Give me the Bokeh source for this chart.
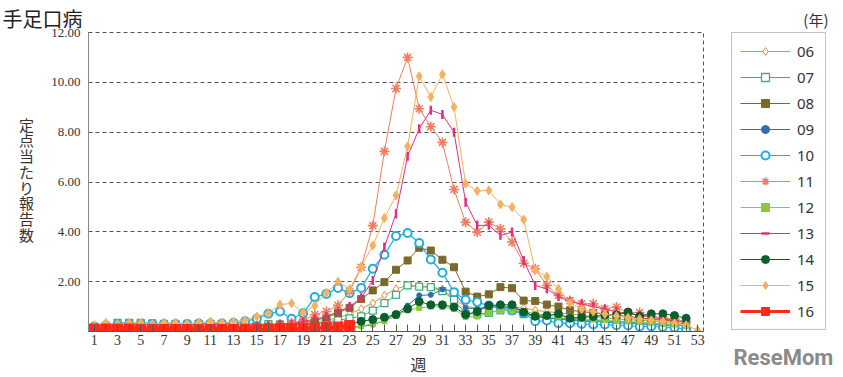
import numpy as np
from bokeh.plotting import figure
from bokeh.models import (Range1d, FixedTicker, Legend, LegendItem, Label,
                          NumeralTickFormatter)
from bokeh.embed import file_html
from bokeh.resources import INLINE

weeks = list(range(1, 54))
odd_weeks = list(range(1, 54, 2))
even_weeks = list(range(2, 53, 2))
y_ticks = [2, 4, 6, 8, 10, 12]

years = ["06", "07", "08", "09", "10", "11", "12", "13", "14", "15", "16"]

v06 = [0.15, 0.15, 0.15, 0.15, 0.15, 0.15, 0.15, 0.15, 0.15, 0.15,
       0.15, 0.15, 0.15, 0.18, 0.20, 0.22, 0.25, 0.28, 0.32, 0.38,
       0.45, 0.55, 0.70, 0.91, 1.14, 1.45, 1.71, 1.85, 1.82, 1.78,
       1.70, 1.30, 1.00, 0.95, 0.95, 1.00, 1.00, 0.95, 0.85, 0.80,
       0.75, 0.70, 0.65, 0.60, 0.55, 0.50, 0.48, 0.45, 0.42, 0.40,
       0.35, 0.30]
v07 = [0.15, 0.20, 0.35, 0.35, 0.35, 0.33, 0.30, 0.30, 0.28, 0.30,
       0.30, 0.30, 0.30, 0.32, 0.30, 0.30, 0.28, 0.28, 0.30, 0.33,
       0.38, 0.45, 0.53, 0.61, 0.84, 1.14, 1.47, 1.85, 1.80, 1.78,
       1.62, 1.27, 0.72, 0.70, 0.75, 0.85, 0.85, 0.70, 0.60, 0.55,
       0.52, 0.50, 0.45, 0.45, 0.42, 0.40, 0.38, 0.35, 0.32, 0.30,
       0.28, 0.25]
v08 = [0.12, 0.12, 0.12, 0.12, 0.12, 0.12, 0.12, 0.12, 0.12, 0.12,
       0.13, 0.14, 0.15, 0.16, 0.18, 0.20, 0.25, 0.28, 0.35, 0.45,
       0.55, 0.75, 0.95, 1.30, 1.65, 1.98, 2.48, 2.85, 3.36, 3.25,
       2.88, 2.58, 1.60, 1.40, 1.49, 1.78, 1.74, 1.24, 1.22, 1.08,
       1.00, 0.85, 0.80, 0.75, 0.70, 0.65, 0.60, 0.55, 0.50, 0.45,
       0.42, 0.38]
v09 = [0.05, 0.05, 0.05, 0.05, 0.05, 0.05, 0.05, 0.05, 0.05, 0.05,
       0.05, 0.05, 0.05, 0.05, 0.05, 0.05, 0.05, 0.05, 0.05, 0.05,
       0.08, 0.10, 0.15, 0.20, 0.27, 0.44, 0.71, 1.04, 1.45, 1.47,
       1.69, 1.62, 0.95, 0.90, 1.00, 1.00, 0.95, 0.80, 0.60, 0.55,
       0.50, 0.45, 0.42, 0.40, 0.38, 0.35, 0.33, 0.30, 0.28, 0.26,
       0.25, 0.22]
v10 = [0.20, 0.25, 0.28, 0.30, 0.30, 0.30, 0.30, 0.30, 0.30, 0.32,
       0.32, 0.32, 0.35, 0.41, 0.51, 0.71, 0.80, 0.51, 0.73, 1.38,
       1.51, 1.75, 1.54, 1.75, 2.52, 3.08, 3.83, 3.95, 3.55, 2.89,
       2.36, 1.58, 1.27, 1.18, 1.04, 0.98, 0.84, 0.74, 0.41, 0.44,
       0.33, 0.33, 0.30, 0.28, 0.28, 0.25, 0.24, 0.20, 0.20, 0.18,
       0.15, 0.10]
v11 = [0.15, 0.15, 0.15, 0.15, 0.15, 0.15, 0.15, 0.15, 0.15, 0.15,
       0.15, 0.15, 0.15, 0.18, 0.20, 0.22, 0.25, 0.35, 0.44, 0.68,
       0.80, 1.05, 1.60, 2.57, 4.25, 7.23, 9.75, 11.00, 8.94, 8.22,
       7.59, 5.70, 4.38, 3.99, 4.39, 4.12, 3.59, 2.74, 2.52, 1.85,
       1.45, 1.24, 1.11, 1.11, 0.91, 0.98, 0.75, 0.76, 0.60, 0.55,
       0.50, 0.40]
v12 = [0.08, 0.08, 0.08, 0.08, 0.08, 0.08, 0.08, 0.08, 0.08, 0.08,
       0.08, 0.08, 0.08, 0.08, 0.08, 0.09, 0.09, 0.10, 0.10, 0.10,
       0.12, 0.15, 0.18, 0.22, 0.30, 0.42, 0.62, 0.85, 0.94, 1.00,
       0.98, 0.90, 0.58, 0.60, 0.75, 0.85, 0.85, 0.80, 0.72, 0.65,
       0.60, 0.55, 0.50, 0.48, 0.45, 0.42, 0.40, 0.38, 0.35, 0.30,
       0.28, 0.22]
v13 = [0.20, 0.20, 0.20, 0.20, 0.20, 0.20, 0.20, 0.20, 0.20, 0.20,
       0.20, 0.20, 0.20, 0.20, 0.22, 0.25, 0.30, 0.30, 0.40, 0.50,
       0.60, 0.80, 1.00, 1.35, 2.05, 3.39, 4.73, 7.03, 8.14, 8.88,
       8.71, 8.00, 5.19, 4.26, 4.26, 3.86, 3.99, 2.85, 1.85, 1.71,
       1.40, 1.20, 1.10, 1.00, 0.90, 0.80, 0.72, 0.65, 0.58, 0.50,
       0.45, 0.35]
v14 = [0.08, 0.08, 0.08, 0.08, 0.08, 0.08, 0.08, 0.08, 0.08, 0.08,
       0.08, 0.08, 0.08, 0.08, 0.08, 0.09, 0.10, 0.10, 0.10, 0.15,
       0.18, 0.20, 0.28, 0.41, 0.48, 0.57, 0.68, 0.91, 1.20, 1.07,
       1.07, 0.98, 0.68, 0.80, 1.04, 1.07, 1.07, 0.78, 0.61, 0.64,
       0.71, 0.53, 0.57, 0.60, 0.66, 0.66, 0.78, 0.61, 0.71, 0.71,
       0.64, 0.53]
v15 = [0.25, 0.35, 0.30, 0.35, 0.35, 0.30, 0.35, 0.35, 0.30, 0.35,
       0.40, 0.35, 0.40, 0.45, 0.60, 0.74, 1.08, 1.13, 0.75, 1.04,
       1.55, 2.00, 1.70, 2.60, 3.45, 4.55, 5.46, 7.43, 10.24, 9.41,
       10.32, 9.01, 5.93, 5.64, 5.66, 5.10, 4.99, 4.49, 2.45, 2.20,
       1.71, 1.14, 0.90, 0.80, 0.70, 0.62, 0.55, 0.50, 0.45, 0.40,
       0.33, 0.25, 0.05]
v16 = [0.10, 0.10, 0.10, 0.10, 0.09, 0.09, 0.08, 0.08, 0.08, 0.08,
       0.08, 0.08, 0.08, 0.09, 0.10, 0.10, 0.11, 0.12, 0.12, 0.14,
       0.16, 0.18, 0.24]

series = [v06, v07, v08, v09, v10, v11, v12, v13, v14, v15, v16]

colors = ["#E8894A", "#3CB07A", "#7A6A2A", "#2E6DB4", "#22AEDC", "#F07E5E",
          "#8DC63F", "#E0307A", "#0B5E2E", "#F5B060", "#FF2A1A"]
styles = [
    dict(marker="diamond", size=8, fill="white", lw=1.0, mlw=1.0, angle=0),
    dict(marker="square", size=7, fill="white", lw=1.0, mlw=1.3, angle=0),
    dict(marker="square", size=7, fill=None, lw=1.0, mlw=1.0, angle=0),
    dict(marker="circle", size=5, fill=None, lw=1.0, mlw=1.0, angle=0),
    dict(marker="circle", size=8, fill="white", lw=1.2, mlw=2.0, angle=0),
    dict(marker="asterisk", size=10, fill=None, lw=1.0, mlw=1.6, angle=0),
    dict(marker="square", size=5, fill=None, lw=1.0, mlw=1.0, angle=0),
    dict(marker="dash", size=9, fill=None, lw=1.0, mlw=2.5, angle=np.pi / 2),
    dict(marker="circle", size=8, fill=None, lw=1.0, mlw=1.0, angle=0),
    dict(marker="diamond", size=9, fill=None, lw=1.0, mlw=1.0, angle=0),
    dict(marker="square", size=10, fill=None, lw=3.0, mlw=1.0, angle=0),
]

p = figure(frame_width=615, frame_height=299, output_backend="svg",
           toolbar_location=None, x_range=Range1d(0.5, 53.5),
           y_range=Range1d(0, 12), min_border_left=88, min_border_top=32,
           min_border_bottom=46, min_border_right=140,
           background_fill_color="white", border_fill_color="white")

p.title.text = "手足口病"
p.title.align = "left"
p.title.offset = -86
p.title.standoff = 0
p.title.text_font = "Noto Sans CJK JP"
p.title.text_font_size = "20px"
p.title.text_font_style = "normal"
p.title.text_color = "#222222"

p.outline_line_color = "#555555"
p.outline_line_dash = "4 3"
p.xgrid.visible = False
p.ygrid.ticker = FixedTicker(ticks=y_ticks)
p.ygrid.grid_line_color = "#555555"
p.ygrid.grid_line_dash = "4 3"
p.ygrid.grid_line_width = 1

p.yaxis.ticker = FixedTicker(ticks=y_ticks)
p.yaxis.formatter = NumeralTickFormatter(format="0.00")
p.yaxis.major_tick_in = 0
p.yaxis.major_tick_out = 0
p.yaxis.minor_tick_in = 0
p.yaxis.minor_tick_out = 0
p.yaxis.axis_line_color = "#888888"
p.yaxis.major_label_text_font = "Liberation Serif"
p.yaxis.major_label_text_font_size = "13px"
p.yaxis.major_label_text_color = "#333333"
p.yaxis.major_label_standoff = 8

p.xaxis.ticker = FixedTicker(ticks=odd_weeks, minor_ticks=even_weeks)
p.xaxis.major_tick_in = 7
p.xaxis.major_tick_out = 0
p.xaxis.minor_tick_in = 7
p.xaxis.minor_tick_out = 0
p.xaxis.major_tick_line_color = "#555555"
p.xaxis.minor_tick_line_color = "#555555"
p.xaxis.axis_line_color = "#555555"
p.xaxis.major_label_text_font = "Liberation Serif"
p.xaxis.major_label_text_font_size = "14px"
p.xaxis.major_label_text_color = "#333333"
p.xaxis.major_label_standoff = 3

items = []
for yr, vals, col, st in zip(years, series, colors, styles):
    xs = weeks[:len(vals)]
    r1 = p.line(xs, vals, line_color=col, line_width=st["lw"])
    fill = st["fill"] if st["fill"] else col
    r2 = p.scatter(xs, vals, marker=st["marker"], size=st["size"],
                   line_color=col, fill_color=fill, line_width=st["mlw"],
                   angle=st["angle"])
    items.append(LegendItem(label=yr, renderers=[r1, r2]))

legend = Legend(items=items, location=(28, 1), margin=0, padding=8,
                spacing=6, glyph_width=50, glyph_height=20, label_height=20,
                label_standoff=7, label_text_font="Noto Sans",
                label_text_font_size="15px", label_text_color="#333333",
                border_line_color="#888888", border_line_width=1,
                background_fill_alpha=1)
p.add_layout(legend, "right")

# texts outside the frame live in side panels, positioned in canvas pixels
p.add_layout(Label(x=26, y=113, x_units="canvas", y_units="canvas",
                   text="定\n点\n当\nた\nり\n報\n告\n数",
                   text_font="Noto Sans CJK JP", text_font_size="15px",
                   text_line_height=0.75, text_color="#333333",
                   text_baseline="top", text_align="center"), "left")
p.add_layout(Label(x=418, y=363, x_units="canvas", y_units="canvas",
                   text="週", text_font="Noto Sans CJK JP",
                   text_font_size="16px", text_color="#333333",
                   text_baseline="middle", text_align="center"), "left")
p.add_layout(Label(x=828, y=8, x_units="canvas", y_units="canvas",
                   text="(年)", text_font="Noto Sans CJK JP",
                   text_font_size="15px", text_color="#333333",
                   text_baseline="top", text_align="right"), "right")
p.add_layout(Label(x=733, y=357, x_units="canvas", y_units="canvas",
                   text="ReseMom", text_font="Roboto", text_font_style="bold",
                   text_font_size="22px", text_color="#8A8A8A",
                   text_baseline="middle", text_align="left"), "below")

open("out.html", "w").write(file_html(p, INLINE))
